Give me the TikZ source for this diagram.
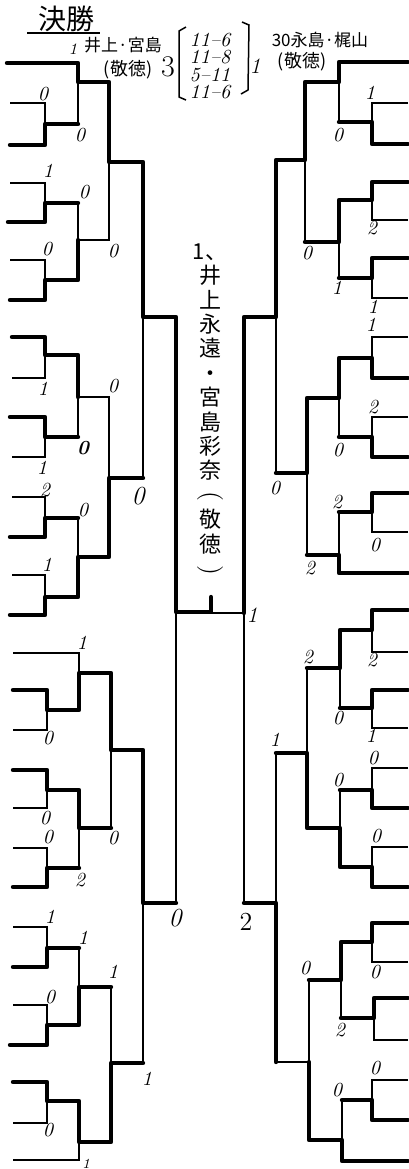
\documentclass[tikz,border=0pt]{standalone}
\usepackage{fontspec}
\newfontfamily\jpfont{Noto Sans CJK JP}
\tikzset{
  winner/.style={line width=2.2pt, line cap=round, line join=round},
  loser/.style={line width=0.75pt},
  score/.style={font=\fontsize{10}{10}\selectfont\itshape, inner sep=0pt},
  bigscore/.style={font=\fontsize{13}{13}\selectfont\itshape, inner sep=0pt},
  jptext/.style={font=\jpfont\fontsize{8.5}{9}\selectfont, inner sep=0pt}
}
\begin{document}
\begin{tikzpicture}[x=0.5pt, y=-0.5pt]
      \useasboundingbox (0, 0) rectangle (408, 1169);
      \node[font=\jpfont\fontsize{14}{14}\selectfont, inner sep=0pt] (title) at (67, 19) {決勝};
      \draw[loser] (27, 33) -- (100, 33);
      \node[score, font=\fontsize{8}{8}\selectfont\itshape] (seedl) at (73, 49) {1};
      \node[jptext] (namel) at (123, 45) {井上·宮島};
      \node[jptext, font=\jpfont\fontsize{9}{9}\selectfont] (teaml) at (128, 70) {(敬徳)};
      \node[inner sep=0pt, font=\fontsize{15}{15}\selectfont] (setl) at (168, 67) {3};
      \node[score, align=center, font=\fontsize{10}{8.6}\selectfont\itshape] (games) at (210, 66) {11--6\\11--8\\5--11\\11--6};
      \draw[loser] (186, 27) -- (179, 31) -- (179, 97) -- (186, 100);
      \draw[loser] (242, 22) -- (249, 25) -- (248, 90) -- (241, 94);
      \node[score, font=\fontsize{11}{11}\selectfont\itshape] (setr) at (255, 66) {1};
      \node[jptext] (namer) at (320, 40) {30永島·梶山};
      \node[jptext, font=\jpfont\fontsize{9}{9}\selectfont] (teamr) at (302, 62) {(敬徳)};
      \node[inner sep=0pt, align=center, font=\jpfont\fontsize{11}{12.2}\selectfont] (champ) at (210, 410) {1、\\井\\上\\永\\遠\\・\\宮\\島\\彩\\奈\\\rotatebox[origin=c]{-90}{\rmfamily\fontsize{13}{13}\selectfont(}\\敬\\徳\\\rotatebox[origin=c]{-90}{\rmfamily\fontsize{13}{13}\selectfont)}};
      \draw[winner] (7, 63) -- (78, 63) -- (78, 82) -- (109, 82) -- (109, 162) -- (143, 162) -- (143, 317) -- (176, 317) -- (176, 612) -- (211, 612) -- (211, 597);
      \draw[loser] (10, 103) -- (45, 103) -- (45, 124);
      \draw[winner] (10, 145) -- (45, 145) -- (45, 124) -- (78, 124);
      \draw[loser] (78, 124) -- (78, 82);
      \draw[loser] (10, 183) -- (45, 183) -- (45, 203);
      \draw[winner] (8, 222) -- (45, 222) -- (45, 203) -- (78, 203);
      \draw[loser] (78, 203) -- (78, 240);
      \draw[loser] (10, 260) -- (45, 260) -- (45, 280);
      \draw[winner] (10, 300) -- (45, 300) -- (45, 280) -- (78, 280) -- (78, 240);
      \draw[loser] (78, 240) -- (109, 240) -- (109, 162);
      \draw[winner] (12, 337) -- (45, 337) -- (45, 355) -- (78, 355) -- (78, 397);
      \draw[loser] (12, 378) -- (45, 378) -- (45, 355);
      \draw[loser] (78, 397) -- (109, 397) -- (109, 478);
      \draw[winner] (10, 417) -- (45, 417) -- (45, 437) -- (78, 437);
      \draw[loser] (12, 457) -- (45, 457) -- (45, 437);
      \draw[loser] (78, 437) -- (78, 397);
      \draw[loser] (12, 497) -- (45, 497) -- (45, 518);
      \draw[winner] (10, 537) -- (45, 537) -- (45, 518) -- (78, 518);
      \draw[loser] (78, 518) -- (78, 557);
      \draw[loser] (12, 575) -- (45, 575) -- (45, 597);
      \draw[winner] (10, 615) -- (45, 615) -- (45, 597) -- (78, 597) -- (78, 557) -- (109, 557) -- (109, 478) -- (143, 478);
      \draw[loser] (143, 478) -- (143, 317);
      \draw[loser] (13, 653) -- (79, 653) -- (79, 673);
      \draw[winner] (13, 690) -- (47, 690) -- (47, 710) -- (79, 710) -- (79, 673) -- (111, 673) -- (111, 750) -- (143, 750) -- (143, 903) -- (176, 903);
      \draw[loser] (176, 903) -- (176, 612);
      \draw[loser] (13, 730) -- (47, 730) -- (47, 710);
      \draw[winner] (13, 770) -- (47, 770) -- (47, 790) -- (79, 790) -- (79, 828) -- (111, 828);
      \draw[loser] (111, 828) -- (111, 750);
      \draw[loser] (13, 808) -- (47, 808) -- (47, 790);
      \draw[loser] (13, 848) -- (47, 848) -- (47, 868);
      \draw[winner] (13, 887) -- (47, 887) -- (47, 868) -- (79, 868);
      \draw[loser] (79, 868) -- (79, 828);
      \draw[loser] (13, 927) -- (47, 927) -- (47, 948);
      \draw[winner] (13, 967) -- (47, 967) -- (47, 948) -- (79, 948);
      \draw[loser] (79, 948) -- (79, 987);
      \draw[loser] (13, 1005) -- (47, 1005) -- (47, 1025);
      \draw[winner] (10, 1045) -- (47, 1045) -- (47, 1025) -- (79, 1025) -- (79, 987) -- (111, 987);
      \draw[loser] (111, 987) -- (111, 1063);
      \draw[winner] (13, 1082) -- (47, 1082) -- (47, 1101) -- (79, 1101) -- (79, 1142) -- (111, 1142) -- (111, 1063) -- (143, 1063);
      \draw[loser] (143, 1063) -- (143, 903);
      \draw[loser] (13, 1123) -- (47, 1123) -- (47, 1101);
      \draw[loser] (13, 1160) -- (79, 1160) -- (79, 1142);
      \draw[winner] (408, 62) -- (339, 62) -- (339, 82) -- (305, 82) -- (305, 160) -- (276, 160) -- (276, 317) -- (244, 317) -- (244, 613);
      \draw[loser] (244, 613) -- (211, 613);
      \draw[loser] (408, 103) -- (372, 103) -- (372, 122);
      \draw[winner] (408, 144) -- (372, 144) -- (372, 122) -- (339, 122);
      \draw[loser] (339, 122) -- (339, 82);
      \draw[winner] (408, 182) -- (372, 182) -- (372, 200) -- (339, 200) -- (339, 242) -- (305, 242);
      \draw[loser] (305, 242) -- (305, 160);
      \draw[loser] (408, 220) -- (372, 220) -- (372, 200);
      \draw[winner] (408, 258) -- (372, 258) -- (372, 278) -- (339, 278);
      \draw[loser] (339, 278) -- (339, 242);
      \draw[loser] (408, 298) -- (372, 298) -- (372, 278);
      \draw[loser] (408, 337) -- (372, 337) -- (372, 358);
      \draw[winner] (408, 378) -- (372, 378) -- (372, 358) -- (339, 358) -- (339, 398) -- (307, 398) -- (307, 473) -- (276, 473);
      \draw[loser] (276, 473) -- (276, 317);
      \draw[loser] (408, 417) -- (372, 417) -- (372, 437);
      \draw[winner] (408, 457) -- (372, 457) -- (372, 437) -- (339, 437);
      \draw[loser] (339, 437) -- (339, 398);
      \draw[winner] (408, 493) -- (372, 493) -- (372, 512) -- (339, 512);
      \draw[loser] (339, 512) -- (339, 555);
      \draw[loser] (408, 532) -- (372, 532) -- (372, 512);
      \draw[winner] (408, 573) -- (339, 573) -- (339, 555) -- (307, 555);
      \draw[loser] (307, 555) -- (307, 473);
      \draw[winner] (408, 610) -- (372, 610) -- (372, 630) -- (340, 630) -- (340, 668) -- (307, 668);
      \draw[loser] (307, 668) -- (307, 753);
      \draw[loser] (408, 652) -- (372, 652) -- (372, 630);
      \draw[winner] (408, 690) -- (372, 690) -- (372, 708) -- (340, 708);
      \draw[loser] (340, 708) -- (340, 668);
      \draw[loser] (408, 728) -- (372, 728) -- (372, 708);
      \draw[loser] (408, 768) -- (372, 768) -- (372, 790);
      \draw[winner] (408, 808) -- (372, 808) -- (372, 790) -- (340, 790);
      \draw[loser] (340, 790) -- (340, 828);
      \draw[loser] (408, 847) -- (372, 847) -- (372, 867);
      \draw[winner] (408, 887) -- (372, 887) -- (372, 867) -- (340, 867) -- (340, 828) -- (307, 828) -- (307, 753) -- (276, 753);
      \draw[loser] (276, 753) -- (276, 903);
      \draw[winner] (408, 923) -- (372, 923) -- (372, 942) -- (341, 942) -- (341, 980) -- (309, 980);
      \draw[loser] (309, 980) -- (309, 1062) -- (276, 1062);
      \draw[loser] (408, 962) -- (372, 962) -- (372, 942);
      \draw[winner] (408, 998) -- (374, 998) -- (374, 1018) -- (341, 1018);
      \draw[loser] (341, 1018) -- (341, 980);
      \draw[loser] (408, 1040) -- (374, 1040) -- (374, 1018);
      \draw[loser] (408, 1080) -- (372, 1080) -- (372, 1100);
      \draw[winner] (408, 1120) -- (372, 1120) -- (372, 1100) -- (342, 1100);
      \draw[loser] (342, 1100) -- (342, 1140);
      \draw[winner] (408, 1161) -- (342, 1161) -- (342, 1140) -- (309, 1140) -- (309, 1062);
      \draw[winner] (276, 1062) -- (276, 903) -- (244, 903);
      \draw[loser] (244, 903) -- (244, 613);
      \node[score] (lt1) at (43, 94) {0};
      \node[score] (lt2) at (80, 135) {0};
      \node[score] (lt3) at (48, 171) {1};
      \node[score] (lt4) at (84, 192) {0};
      \node[score] (lt5) at (47, 249) {0};
      \node[score] (lt6) at (113, 251) {0};
      \node[score] (lt7) at (43, 389) {1};
      \node[score] (lt8) at (113, 386) {0};
      \node[score, font=\fontsize{10}{10}\selectfont\bfseries\itshape] (lt9) at (83, 448) {0};
      \node[score] (lt10) at (42, 468) {1};
      \node[score] (lt11) at (45, 490) {2};
      \node[score] (lt12) at (83, 510) {0};
      \node[bigscore] (lt13) at (138, 496) {0};
      \node[score] (lt14) at (47, 565) {1};
      \node[score] (lb1) at (82, 643) {1};
      \node[score] (lb2) at (48, 738) {0};
      \node[score] (lb3) at (45, 818) {0};
      \node[score] (lb4) at (48, 837) {0};
      \node[score] (lb5) at (113, 838) {0};
      \node[score] (lb6) at (80, 880) {2};
      \node[score] (lb7) at (50, 917) {1};
      \node[score] (lb8) at (83, 938) {1};
      \node[score] (lb9) at (113, 972) {1};
      \node[score] (lb10) at (50, 997) {0};
      \node[score] (lb11) at (147, 1079) {1};
      \node[score] (lb12) at (48, 1130) {0};
      \node[score, font=\fontsize{7}{7}\selectfont\itshape] (lb13) at (86, 1164) {1};
      \node[bigscore] (sfl) at (175, 918) {0};
      \node[score] (rt1) at (370, 93) {1};
      \node[score] (rt2) at (338, 135) {0};
      \node[score] (rt3) at (372, 228) {2};
      \node[score] (rt4) at (307, 253) {0};
      \node[score] (rt5) at (337, 288) {1};
      \node[score] (rt6) at (373, 307) {1};
      \node[score] (rt7) at (371, 325) {1};
      \node[score] (rt8) at (373, 407) {2};
      \node[score] (rt9) at (338, 450) {0};
      \node[score] (rt10) at (275, 488) {0};
      \node[score] (rt11) at (337, 502) {2};
      \node[score] (rt12) at (375, 545) {0};
      \node[score] (rt13) at (310, 568) {2};
      \node[score] (rb1) at (372, 660) {2};
      \node[score] (rb2) at (308, 657) {2};
      \node[score] (rb3) at (338, 718) {0};
      \node[score] (rb4) at (371, 736) {1};
      \node[score] (rb5) at (275, 740) {1};
      \node[score] (rb6) at (373, 758) {0};
      \node[score] (rb7) at (338, 780) {0};
      \node[score] (rb8) at (376, 836) {0};
      \node[score] (rb9) at (305, 968) {0};
      \node[score] (rb10) at (375, 972) {0};
      \node[score] (rb11) at (340, 1030) {2};
      \node[score] (rb12) at (375, 1068) {0};
      \node[score] (rb13) at (337, 1090) {0};
      \node[inner sep=0pt, font=\fontsize{13}{13}\selectfont] (sfr) at (246, 922) {2};
      \node[score, font=\fontsize{11}{11}\selectfont\itshape] (fin) at (252, 615) {1};
    \end{tikzpicture}
\end{document}
